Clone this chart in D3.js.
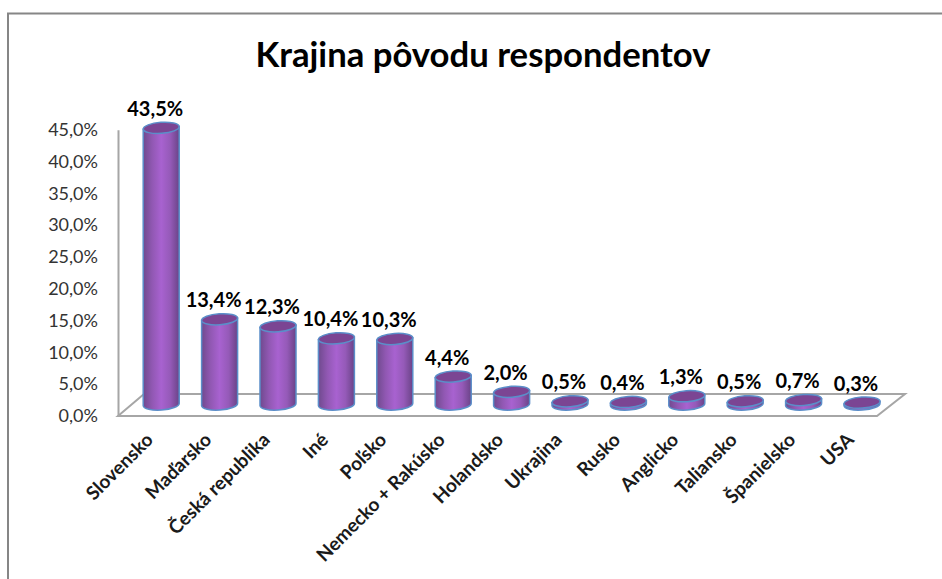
<!DOCTYPE html>
<html>
<head>
<meta charset="utf-8">
<script src="https://cdn.jsdelivr.net/npm/d3@7"></script>
<style>
  html, body { margin: 0; padding: 0; background: #fff; }
  svg { display: block; }
  text { font-family: Lato, "Open Sans", sans-serif; }
</style>
</head>
<body>
<script>
var chartTitle = 'Krajina pôvodu respondentov';
var categories = ['Slovensko', 'Maďarsko', 'Česká republika', 'Iné', 'Poľsko', 'Nemecko + Rakúsko',
  'Holandsko', 'Ukrajina', 'Rusko', 'Anglicko', 'Taliansko', 'Španielsko', 'USA'];
var shares = [43.5, 13.4, 12.3, 10.4, 10.3, 4.4, 2.0, 0.5, 0.4, 1.3, 0.5, 0.7, 0.3];
var shareTicks = [0, 5, 10, 15, 20, 25, 30, 35, 40, 45];

var width = 942;
var height = 579;

// Depth of the 3D floor, the bars stand in the middle of it
var depthX = 26;
var depthY = 22;
var barShift = 11.5;
var tilt = 4;

var svg = d3.select('body').append('svg').attr('width', width).attr('height', height);

var defs = svg.append('defs');
var grad = defs.append('linearGradient').attr('id', 'barFill');
grad.append('stop').attr('offset', '0%').attr('stop-color', '#6f4a8e');
grad.append('stop').attr('offset', '25%').attr('stop-color', '#9158b3');
grad.append('stop').attr('offset', '50%').attr('stop-color', '#a862d0');
grad.append('stop').attr('offset', '75%').attr('stop-color', '#955ab8');
grad.append('stop').attr('offset', '100%').attr('stop-color', '#6a4387');

var x = d3.scaleBand().domain(categories).range([132, 891.2]);
var y = d3.scaleLinear().domain([0, 45]).range([416, 129.8]);

// Outer frame, only the top and left edges are in the picture
svg.append('path')
  .attr('d', 'M8,579V13.5H942')
  .attr('fill', 'none')
  .attr('stroke', '#868686')
  .attr('stroke-width', 2);

svg.append('text')
  .attr('x', 483)
  .attr('y', 67)
  .attr('text-anchor', 'middle')
  .attr('font-size', 34.7)
  .attr('font-weight', 700)
  .attr('fill', '#000')
  .text(chartTitle);

// Floor of the 3D plot
var x0 = 118;
var x1 = 877;
svg.append('path')
  .attr('d', 'M' + x0 + ',' + y(0) + 'L' + (x0 + depthX) + ',' + (y(0) - depthY) +
    'H' + (x1 + depthX + 2) + 'L' + x1 + ',' + y(0) + 'Z')
  .attr('fill', '#fff')
  .attr('stroke', '#a6a6a6')
  .attr('stroke-width', 2);

var yAxis = d3.axisLeft(y)
  .tickValues(shareTicks)
  .tickSize(0)
  .tickPadding(20)
  .tickFormat(function(d) {
    return d3.format('.1f')(d).replace('.', ',') + '%';
  });

var axisG = svg.append('g')
  .attr('transform', 'translate(' + x0 + ',0)')
  .call(yAxis);
axisG.select('.domain').attr('stroke', '#a6a6a6').attr('stroke-width', 2);
axisG.selectAll('text')
  .attr('font-family', 'Lato')
  .attr('font-size', 18)
  .attr('fill', '#333');

function barCenter(d) {
  return x(d) + x.bandwidth() / 2;
}

function cylinder(d, i) {
  var r = 18;
  var ry = 5.5;
  var dy = r * Math.sin(tilt * Math.PI / 180);
  var cx = barCenter(d);
  var base = y(0) - barShift;
  var top = y(shares[i]) - barShift;
  return 'M' + (cx - r) + ',' + (top + dy) +
    'L' + (cx - r) + ',' + (base + dy) +
    'A' + r + ',' + ry + ' ' + (-tilt) + ' 0 0 ' + (cx + r) + ',' + (base - dy) +
    'L' + (cx + r) + ',' + (top - dy) + 'Z';
}

var bars = svg.append('g').selectAll('g')
  .data(categories)
  .enter()
  .append('g');

bars.append('path')
  .attr('d', cylinder)
  .attr('fill', 'url(#barFill)')
  .attr('stroke', '#5b8ec9')
  .attr('stroke-width', 1.5);

bars.append('ellipse')
  .attr('cx', 0)
  .attr('cy', 0)
  .attr('rx', 18)
  .attr('ry', 5.5)
  .attr('transform', function(d, i) {
    return 'translate(' + barCenter(d) + ',' + (y(shares[i]) - barShift) + ') rotate(' + (-tilt) + ')';
  })
  .attr('fill', '#7b4593')
  .attr('stroke', '#5b8ec9')
  .attr('stroke-width', 1.5);

// Value labels sit a bit left of the bar centre
bars.append('text')
  .attr('x', function(d) { return barCenter(d) - 6; })
  .attr('y', function(d, i) { return y(shares[i]) - barShift - 12; })
  .attr('text-anchor', 'middle')
  .attr('font-size', 20)
  .attr('font-weight', 700)
  .attr('fill', '#000')
  .text(function(d, i) {
    return d3.format('.1f')(shares[i]).replace('.', ',') + '%';
  });

// Category labels
svg.append('g').selectAll('text')
  .data(categories)
  .enter()
  .append('text')
  .attr('transform', function(d) {
    return 'translate(' + (barCenter(d) - 7) + ',441) rotate(-45)';
  })
  .attr('text-anchor', 'end')
  .attr('font-size', 19)
  .attr('font-weight', 700)
  .attr('fill', '#1a1a1a')
  .text(function(d) { return d; });
</script>
</body>
</html>
